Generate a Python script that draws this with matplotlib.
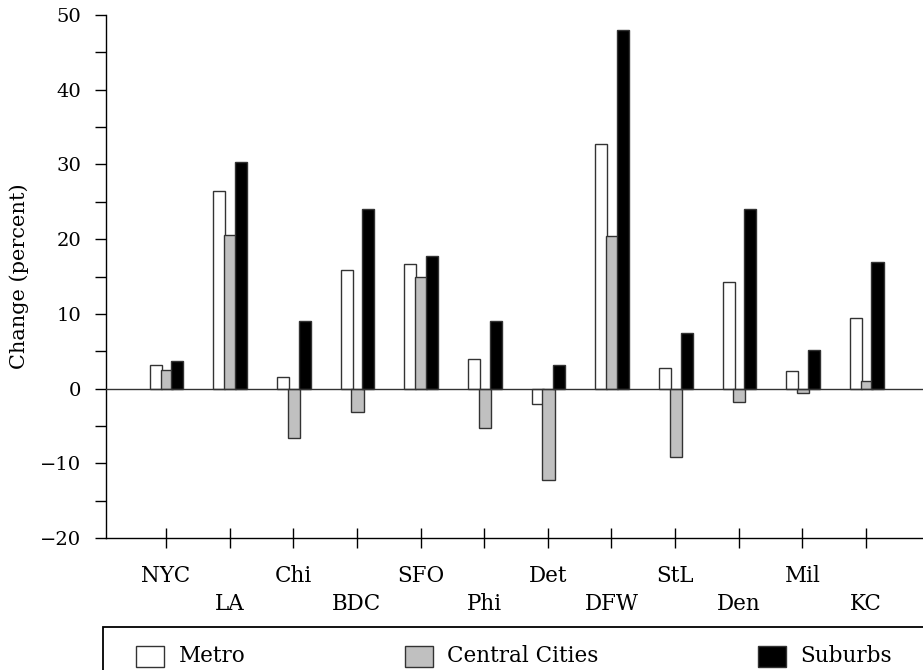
import matplotlib
matplotlib.use("Agg")
import matplotlib.pyplot as plt
from matplotlib.patches import Rectangle
import numpy as np

plt.rcParams['font.family'] = ['DejaVu Serif']
plt.rcParams['font.size'] = 15

# Data (percent change)
cities = ["NYC", "LA", "Chi", "BDC", "SFO", "Phi", "Det", "DFW", "StL", "Den", "Mil", "KC"]
metro = [3.1, 26.4, 1.6, 15.9, 16.7, 4.0, -2.0, 32.8, 2.8, 14.3, 2.4, 9.4]
central = [2.5, 20.6, -6.6, -3.1, 15.0, -5.3, -12.2, 20.4, -9.2, -1.8, -0.6, 1.0]
suburbs = [3.7, 30.3, 9.1, 24.0, 17.8, 9.1, 3.1, 48.0, 7.4, 24.0, 5.1, 17.0]

series_names = ["Metro", "Central Cities", "Suburbs"]
fills = ["white", "#c0c0c0", "black"]
edge = "#333333"

fig = plt.figure(figsize=(9.23, 6.70), dpi=100)
ax = fig.add_axes([0.1148, 0.197, 0.8852, 0.7806])

x = np.arange(len(cities))
w = 0.19
offsets = [-0.16, 0.01, 0.18]
for vals, off, fc in zip([metro, central, suburbs], offsets, fills):
    ax.bar(x + off, vals, width=w, color=fc, edgecolor=edge, linewidth=1.0, zorder=2)

ax.axhline(0, color=edge, linewidth=1.0, zorder=3)

ax.set_xlim(-0.943, 11.895)
ax.set_ylim(-20, 50)

ax.spines['top'].set_visible(False)
ax.spines['right'].set_visible(False)
ax.spines['left'].set_linewidth(1.0)
ax.spines['bottom'].set_linewidth(1.0)

ax.set_yticks(np.arange(-20, 51, 10))
ax.set_yticks(np.arange(-15, 50, 10), minor=True)
ax.tick_params(axis='y', which='both', direction='out', length=8, width=1.0,
               pad=10, labelsize=14)

labels = [c if i % 2 == 0 else "\n" + c for i, c in enumerate(cities)]
ax.set_xticks(x)
ax.set_xticklabels(labels)
ax.tick_params(axis='x', direction='inout', length=14, width=1.0, pad=12.5,
               labelsize=15.5)
for lab in ax.get_xticklabels():
    lab.set_linespacing(1.35)

ax.set_ylabel("Change (percent)", labelpad=8)

# legend box along the bottom
fig.add_artist(Rectangle((103 / 923, -0.05), 1.0, 0.05 + (670 - 627) / 670,
                         transform=fig.transFigure, facecolor="none",
                         edgecolor="black", linewidth=1.3))
patch_x = [136, 405, 758]
text_x = [179, 447, 800]
ymid = 1 - 656 / 670
for px, tx, fc, name in zip(patch_x, text_x, fills, series_names):
    fig.add_artist(Rectangle((px / 923, ymid - 10.5 / 670), 28 / 923, 21 / 670,
                             transform=fig.transFigure, facecolor=fc,
                             edgecolor=edge, linewidth=1.0))
    fig.text(tx / 923, ymid, name, va="center", ha="left", fontsize=15.5)

fig.savefig("out.png", dpi=100)
